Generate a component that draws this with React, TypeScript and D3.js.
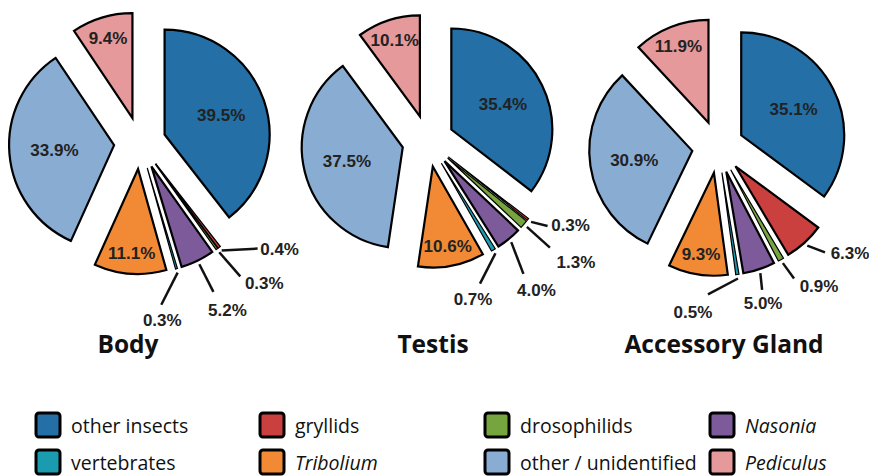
import * as d3 from "d3";
import { useRef, useEffect } from "react";

// categories in pie order (clockwise from 12 o'clock) and legend order
const categories = ["other insects", "gryllids", "drosophilids", "Nasonia", "vertebrates", "Tribolium", "other / unidentified", "Pediculus"];
const italicCategories = ["Nasonia", "Tribolium", "Pediculus"];
const colors = ["#236fa6", "#c9403f", "#76a43f", "#7d5a9a", "#1b9bb0", "#f28a35", "#89acd3", "#e5999a"];

const tissues = ["Body", "Testis", "Accessory Gland"];
const bodyValues = [39.5, 0.4, 0.3, 5.2, 0.3, 11.1, 33.9, 9.4];
const testisValues = [35.4, 0.3, 1.3, 4.0, 0.7, 10.6, 37.5, 10.1];
const glandValues = [35.1, 6.3, 0.9, 5.0, 0.5, 9.3, 30.9, 11.9];

// layout only
const pieLayout = [
    { cx: 140, cy: 143, r: 105, titleX: 128 },
    { cx: 428, cy: 141, r: 101, titleX: 433 },
    { cx: 718, cy: 147, r: 103, titleX: 724 },
];
const explode = 26;
const titleY = 353;
// leader lines for the small slices: [angle deg, length, text dx, text dy]
const leaders = [
    [[-3, 36, 22, 0], [49, 32, 24, 6], [63, 31, 14, 18], [117, 36, 1, 15]],
    [[14, 17, 23, -1], [42, 31, 26, 14], [69, 34, 13, 16], [117, 34, -7, 15]],
    [[21, 19, 25, 0], [54, 19, 25, 7], [84, 17, 1, 13], [152, 34, -15, 17]],
];
const legendCols = [36, 260, 485, 710];
const legendRows = [433, 470];

function App() {
    const ref = useRef<SVGSVGElement>(null);

    useEffect(() => {
        const svg = d3.select(ref.current);
        svg.selectAll("*").remove();

        const pie = d3.pie<number>().sort(null).value((d) => d);
        const allValues = [bodyValues, testisValues, glandValues];

        allValues.forEach((vals, k) => {
            const L = pieLayout[k];
            const arc = d3.arc<d3.PieArcDatum<number>>().innerRadius(0).outerRadius(L.r);
            const g = svg.append("g").attr("transform", `translate(${L.cx},${L.cy})`);
            const arcs = pie(vals);

            arcs.forEach((a, i) => {
                const mid = (a.startAngle + a.endAngle) / 2;
                const ux = Math.sin(mid), uy = -Math.cos(mid);
                const ax = ux * explode, ay = uy * explode;
                g.append("path")
                    .attr("d", arc(a))
                    .attr("transform", `translate(${ax},${ay})`)
                    .attr("fill", colors[i])
                    .attr("stroke", "#000")
                    .attr("stroke-width", vals[i] < 2 ? 1.2 : 2.2)
                    .attr("stroke-linejoin", "miter");
            });

            arcs.forEach((a, i) => {
                const mid = (a.startAngle + a.endAngle) / 2;
                const ux = Math.sin(mid), uy = -Math.cos(mid);
                const ax = ux * explode, ay = uy * explode;
                const label = vals[i].toFixed(1) + "%";
                if (vals[i] > 8) {
                    const f = a.endAngle - a.startAngle > Math.PI / 2 ? 0.57 : 0.8;
                    g.append("text")
                        .attr("x", ax + ux * f * L.r)
                        .attr("y", ay + uy * f * L.r)
                        .attr("dy", "0.36em")
                        .attr("text-anchor", "middle")
                        .style("font", "bold 17px 'Liberation Sans', Arial, sans-serif")
                        .style("fill", "#222")
                        .text(label);
                } else {
                    const [ang, len, tdx, tdy] = leaders[k][i - 1];
                    const sx = ax + ux * (L.r + 4), sy = ay + uy * (L.r + 4);
                    const ex = sx + Math.cos(ang * Math.PI / 180) * len;
                    const ey = sy + Math.sin(ang * Math.PI / 180) * len;
                    g.append("line")
                        .attr("x1", sx).attr("y1", sy)
                        .attr("x2", ex).attr("y2", ey)
                        .attr("stroke", "#111")
                        .attr("stroke-width", 2.5);
                    g.append("text")
                        .attr("x", ex + tdx)
                        .attr("y", ey + tdy)
                        .attr("dy", "0.36em")
                        .attr("text-anchor", "middle")
                        .style("font", "bold 17px 'Liberation Sans', Arial, sans-serif")
                        .style("fill", "#222")
                        .text(label);
                }
            });

            // tissue title
            svg.append("text")
                .attr("x", L.titleX)
                .attr("y", titleY)
                .attr("text-anchor", "middle")
                .style("font", "bold 24.5px 'Open Sans', sans-serif")
                .style("fill", "#111")
                .text(tissues[k]);
        });

        // legend, 4 columns x 2 rows
        categories.forEach((c, i) => {
            const x = legendCols[i % 4];
            const y = legendRows[Math.floor(i / 4)];
            svg.append("rect")
                .attr("x", x)
                .attr("y", y - 20)
                .attr("width", 24)
                .attr("height", 24)
                .attr("rx", 3)
                .attr("fill", colors[i])
                .attr("stroke", "#000")
                .attr("stroke-width", 3);
            svg.append("text")
                .attr("x", x + 35)
                .attr("y", y)
                .style("font", "19.5px 'Open Sans', sans-serif")
                .style("font-style", italicCategories.includes(c) ? "italic" : "normal")
                .style("fill", "#111")
                .text(c);
        });
    });

    return (
        <svg ref={ref} width={869} height={476}
            style={{ position: "absolute", left: 0, top: 0, background: "#fff" }} />
    );
}

export default App;
